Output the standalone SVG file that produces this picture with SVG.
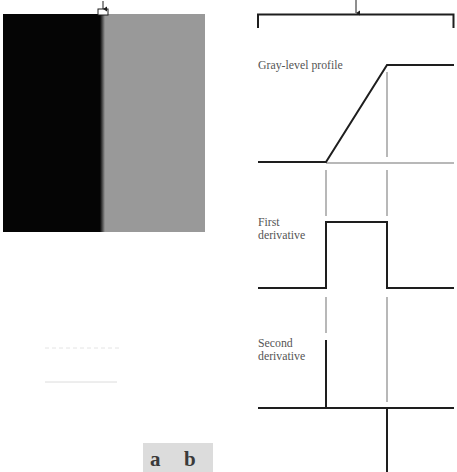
<svg xmlns="http://www.w3.org/2000/svg" width="457" height="472" viewBox="0 0 457 472">
<style>
.k{stroke:#1e1e1e;stroke-width:2;fill:none}
.g{stroke:#a0a0a0;stroke-width:1.5;fill:none}
.t{font-family:"Liberation Serif","Times New Roman",serif;font-size:11.8px;fill:#555}
.ab{font-family:"Liberation Serif","Times New Roman",serif;font-size:21px;font-weight:bold;fill:#3a3a3a}
</style>
<defs>
<linearGradient id="edge" x1="0" x2="1" y1="0" y2="0">
<stop offset="0" stop-color="#050505"/>
<stop offset="1" stop-color="#999"/>
</linearGradient>
<marker id="ah" markerWidth="6" markerHeight="6" refX="3" refY="5" orient="auto" markerUnits="userSpaceOnUse">
<path d="M0.5,1 L3,5 L5.5,1 Z" fill="#1e1e1e"/>
</marker>
</defs>
<rect width="457" height="472" fill="#fff"/>
<g id="image">
<rect x="3" y="14" width="97" height="218" fill="#050505"/>
<rect x="100" y="14" width="5" height="218" fill="url(#edge)"/>
<rect x="105" y="14" width="100" height="218" fill="#999"/>
<rect x="98" y="9" width="10" height="6" fill="#fff" stroke="#1e1e1e" stroke-width="1"/>
<line x1="103" y1="1" x2="103" y2="9" stroke="#1e1e1e" stroke-width="1" marker-end="url(#ah)"/>
</g>
<g id="faint">
<line x1="45" y1="348" x2="120" y2="348" stroke="#e4e4e4" stroke-width="1" stroke-dasharray="4,3"/>
<line x1="45" y1="382" x2="117" y2="382" stroke="#dcdcdc" stroke-width="1"/>
</g>
<g id="bracket">
<path class="k" d="M258,28 V14.5 H453.5 V28" stroke-width="1.3"/>
<line x1="356" y1="0" x2="356" y2="13" stroke="#1e1e1e" stroke-width="1" marker-end="url(#ah)"/>
</g>
<g id="guides">
<line class="g" x1="326" y1="163" x2="454" y2="163"/>
<line class="g" x1="387" y1="72" x2="387" y2="157"/>
<line class="g" x1="326" y1="170" x2="326" y2="216"/>
<line class="g" x1="387" y1="170" x2="387" y2="216"/>
<line class="g" x1="326" y1="297" x2="326" y2="333"/>
<line class="g" x1="387" y1="297" x2="387" y2="402"/>
</g>
<g id="profile">
<text class="t" x="258" y="69">Gray-level profile</text>
<path class="k" d="M258,162 H326 L387,65 H454"/>
</g>
<g id="first">
<text class="t" x="258" y="226">First</text>
<text class="t" x="258" y="239">derivative</text>
<path class="k" d="M258,288 H326 V222 H387 V288 H454"/>
</g>
<g id="second">
<text class="t" x="258" y="347">Second</text>
<text class="t" x="258" y="360">derivative</text>
<path class="k" d="M258,408 H454"/>
<path class="k" d="M326,340 V408"/>
<path class="k" d="M387,408 V472"/>
</g>
<g id="label">
<rect x="143" y="443" width="70" height="29" fill="#dcdcdc"/>
<text class="ab" x="150" y="466">a</text>
<text class="ab" x="184" y="466">b</text>
</g>
</svg>
